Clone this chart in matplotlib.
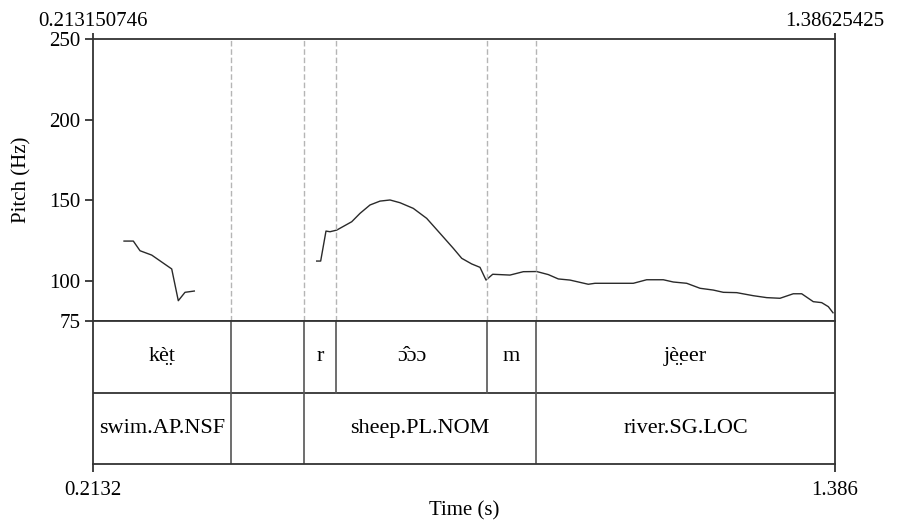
import matplotlib
matplotlib.use("Agg")
import matplotlib.pyplot as plt
import numpy as np

plt.rcParams['font.family'] = ['Liberation Serif', 'DejaVu Serif']

t_start = 0.213150746
t_end = 1.38625425

# pitch track (s, Hz), two voiced stretches
seg1_t = [0.2622, 0.2769, 0.2875, 0.3060, 0.3376, 0.3480, 0.3586, 0.3733]
seg1_f = [124.6, 124.6, 118.6, 115.9, 107.3, 87.6, 92.8, 93.6]

seg2_t = [0.5668, 0.5731, 0.5815, 0.5879, 0.5984, 0.6222, 0.6353, 0.6511,
          0.6669, 0.6827, 0.6985, 0.7195, 0.7407, 0.7618, 0.7828, 0.7961,
          0.8119, 0.8250, 0.8345, 0.8451, 0.8724, 0.8935, 0.9146, 0.9330,
          0.9488, 0.9673, 0.9962, 1.0068, 1.0674, 1.0885, 1.1148, 1.1306,
          1.1518, 1.1729, 1.1938, 1.2097, 1.2308, 1.2571, 1.2783, 1.2993,
          1.3203, 1.3336, 1.3519, 1.3652, 1.3757, 1.3831]
seg2_f = [112.2, 112.2, 130.8, 130.4, 131.4, 136.6, 141.8, 147.0,
          149.4, 150.1, 148.4, 144.9, 138.7, 129.4, 120.1, 113.9,
          110.4, 108.3, 100.4, 104.0, 103.5, 105.6, 105.7, 103.8,
          101.1, 100.4, 97.8, 98.4, 98.4, 100.6, 100.6, 99.2,
          98.4, 95.3, 94.2, 92.8, 92.6, 90.7, 89.5, 89.1,
          91.9, 91.9, 87.0, 86.4, 83.9, 80.1]

# TextGrid tiers
tier1_bounds = [t_start, 0.4313, 0.5468, 0.5973, 0.8361, 0.9135, t_end]
tier1_labels = ["k\u00e8\u0324t", "", "r", "\u0254\u0302\u0254\u0254", "m",
                "j\u00e8\u0324eer"]
tier2_bounds = [t_start, 0.4313, 0.5468, 0.9135, t_end]
tier2_labels = ["swim.AP.NSF", "", "sheep.PL.NOM", "river.SG.LOC"]

yticks = [75, 100, 150, 200, 250]

W, H = 899, 524
fig = plt.figure(figsize=(W / 100, H / 100), dpi=100)
L, R, T, M, B = 93, 835, 39, 321, 464
ax = fig.add_axes([L / W, 1 - M / H, (R - L) / W, (M - T) / H])
tx = fig.add_axes([L / W, 1 - B / H, (R - L) / W, (B - M) / H])

line_c = '#333333'
fs = 15
for a in (ax, tx):
    for s in a.spines.values():
        s.set_color(line_c)
        s.set_linewidth(1.3)
    a.set_xlim(t_start, t_end)

# pitch panel
ax.plot(seg1_t, seg1_f, color='#2a2a2a', lw=1.0)
ax.plot(seg2_t, seg2_f, color='#2a2a2a', lw=1.0)
for b in tier1_bounds[1:-1]:
    ax.axvline(b, color='#b5b5b5', lw=1.0, ls=(0, (4, 2)))
ax.set_ylim(75, 250)
ax.set_yticks(yticks)
ax.set_yticklabels([str(v) for v in yticks], fontsize=fs)
ax.set_ylabel("Pitch (Hz)", fontsize=fs, labelpad=13)
ax.xaxis.tick_top()
ax.set_xticks([t_start, t_end])
ax.set_xticklabels(["0.213150746", "1.38625425"], fontsize=fs)
ax.tick_params(axis='y', direction='out', length=6, width=1.3,
               color=line_c, pad=3)
ax.tick_params(axis='x', direction='out', length=4, width=1.3,
               color=line_c, pad=2)

# tier panel
tx.set_ylim(0, 2)
tx.set_yticks([])
tx.axhline(1, color=line_c, lw=1.3)
for b in tier1_bounds[1:-1]:
    tx.plot([b, b], [1, 2], color='#555555', lw=1.2)
for b in tier2_bounds[1:-1]:
    tx.plot([b, b], [0, 1], color='#555555', lw=1.2)
for i, lab in enumerate(tier1_labels):
    mid = (tier1_bounds[i] + tier1_bounds[i + 1]) / 2
    tx.text(mid, 1.5, lab, ha='center', va='center', fontsize=16)
for i, lab in enumerate(tier2_labels):
    mid = (tier2_bounds[i] + tier2_bounds[i + 1]) / 2
    tx.text(mid, 0.5, lab, ha='center', va='center', fontsize=16)
tx.set_xticks([t_start, t_end])
tx.set_xticklabels(["0.2132", "1.386"], fontsize=fs)
tx.set_xlabel("Time (s)", fontsize=fs, labelpad=1)
tx.tick_params(axis='x', direction='out', length=6, width=1.3,
               color=line_c, pad=6)
tx.tick_params(axis='y', length=0)

fig.savefig("out.png", dpi=100)
